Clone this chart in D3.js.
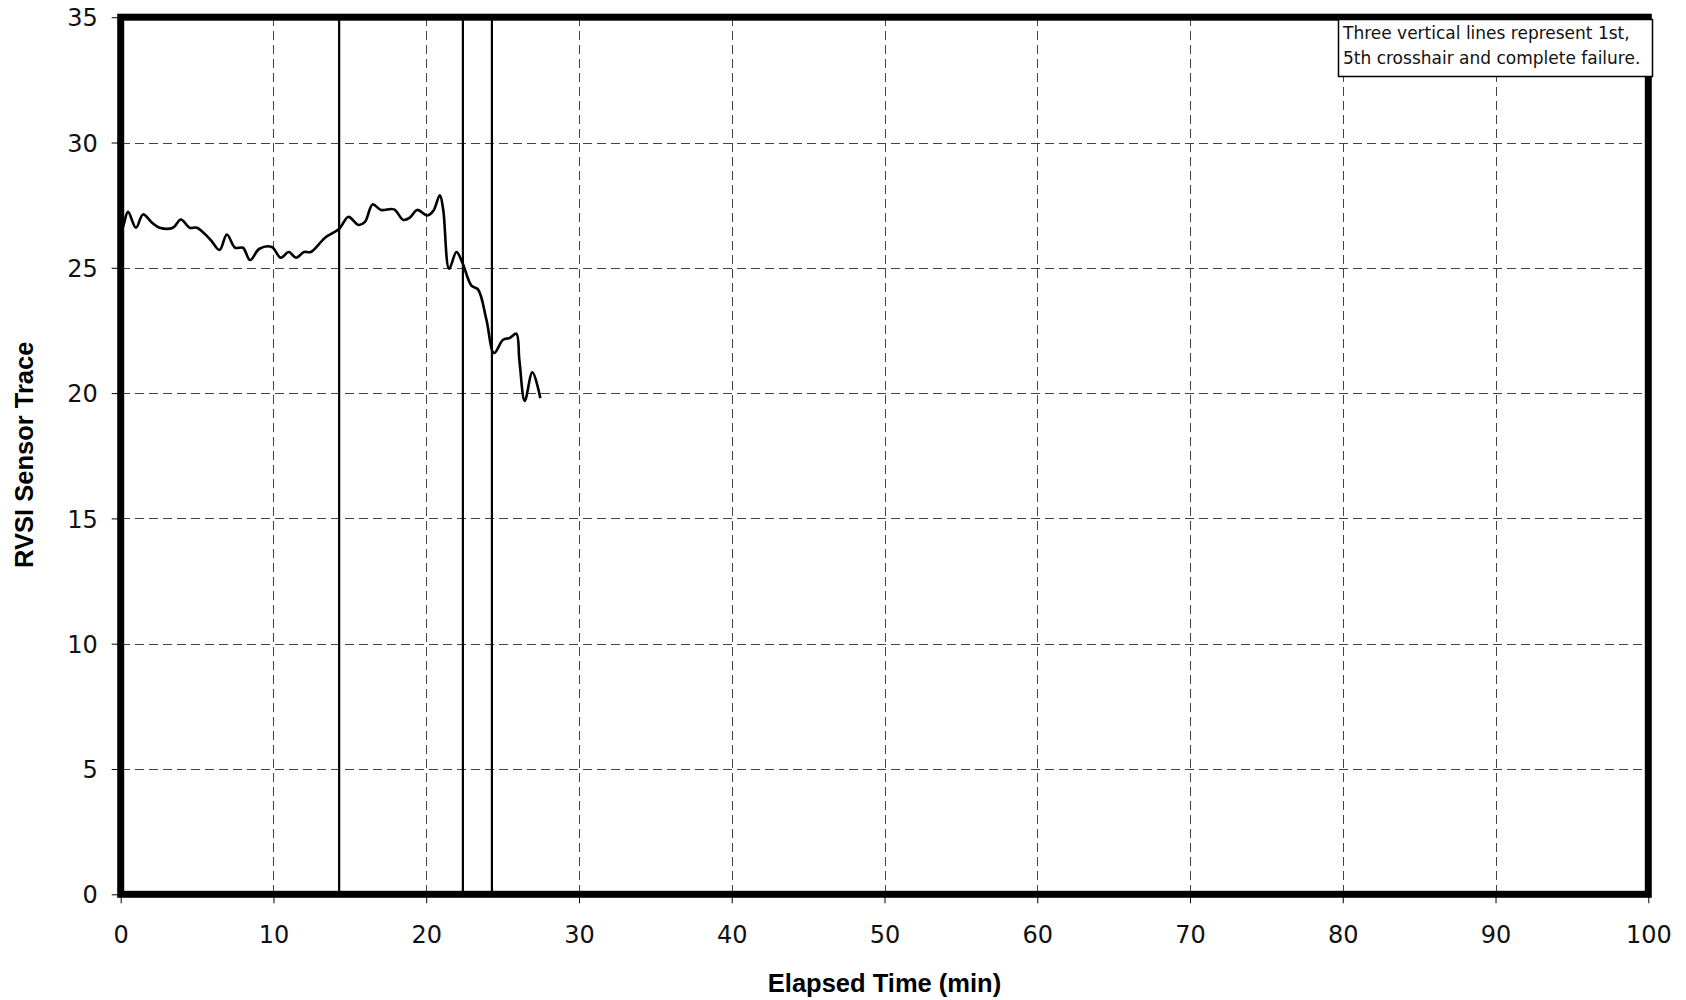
<!DOCTYPE html>
<html>
<head>
<meta charset="utf-8">
<script src="https://d3js.org/d3.v7.min.js"></script>
<style>
  html, body { margin: 0; padding: 0; background: #fff; }
  svg { display: block; }
</style>
</head>
<body>
<svg id="chart" width="1686" height="1000"></svg>
<script>
// Elapsed time (min) of each sensor sample
const elapsedMin = [0.0, 0.2, 0.48, 1.0, 1.46, 2.05, 2.55, 3.42, 3.94, 4.51, 4.99, 5.86, 6.47, 6.95, 7.49,
  8.0, 8.47, 9.08, 9.89, 10.48, 11.0, 11.48, 12.0, 12.44, 13.38, 14.31, 14.9, 15.56, 15.99, 16.49,
  17.04, 17.89, 18.5, 18.93, 19.41, 20.07, 20.46, 20.89, 21.11, 21.5, 21.98, 22.37, 22.96, 23.4,
  23.94, 24.44, 25.03, 25.47, 25.9, 26.1, 26.45, 26.95, 27.47];
// RVSI sensor trace value at each sample
const rvsiTrace = [26.3, 26.73, 27.23, 26.6, 27.13, 26.8, 26.6, 26.6, 26.93, 26.6, 26.6, 26.13, 25.71, 26.33, 25.8,
  25.8, 25.31, 25.76, 25.83, 25.4, 25.63, 25.4, 25.63, 25.63, 26.2, 26.56, 27.03, 26.71, 26.83, 27.53,
  27.31, 27.33, 26.91, 27.0, 27.31, 27.09, 27.27, 27.89, 27.33, 24.96, 25.63, 25.2, 24.29, 24.13,
  22.93, 21.6, 22.13, 22.2, 22.37, 21.3, 19.69, 20.83, 19.8];
// 1st crosshair, 5th crosshair, complete failure
const eventTimes = [14.3, 22.4, 24.3];
const xTicks = [0, 10, 20, 30, 40, 50, 60, 70, 80, 90, 100];
const yTicks = [0, 5, 10, 15, 20, 25, 30, 35];
const noteLines = ["Three vertical lines represent 1st,", "5th crosshair and complete failure."];

const svg = d3.select("#chart");
const plot = { left: 120.7, right: 1648.3, top: 17.2, bottom: 894.3 };

const x = d3.scaleLinear().domain([0, 100]).range([plot.left, plot.right]);
const y = d3.scaleLinear().domain([0, 35]).range([plot.bottom, plot.top]);

const tickFont = "'DejaVu Sans', 'Noto Sans', sans-serif";
const titleFont = "'Liberation Sans', Arial, sans-serif";

// dashed grid
const grid = svg.append("g").attr("stroke", "#444").attr("stroke-width", 1)
  .attr("stroke-dasharray", "9,5").attr("shape-rendering", "crispEdges");
grid.selectAll("line.v").data(xTicks.filter(d => d > 0 && d < 100)).join("line")
  .attr("class", "v")
  .attr("x1", d => Math.round(x(d)) + 0.5).attr("x2", d => Math.round(x(d)) + 0.5)
  .attr("y1", plot.top).attr("y2", plot.bottom);
grid.selectAll("line.h").data(yTicks.filter(d => d > 0 && d < 35)).join("line")
  .attr("class", "h")
  .attr("y1", d => Math.round(y(d)) + 0.5).attr("y2", d => Math.round(y(d)) + 0.5)
  .attr("x1", plot.left).attr("x2", plot.right);

// axes (ticks + labels)
const xAxis = svg.append("g")
  .attr("transform", `translate(0,${plot.bottom})`)
  .call(d3.axisBottom(x).tickValues(xTicks).tickSize(9).tickPadding(23).tickFormat(d3.format("d")));
const yAxis = svg.append("g")
  .attr("transform", `translate(${plot.left},0)`)
  .call(d3.axisLeft(y).tickValues(yTicks).tickSize(9).tickPadding(14).tickFormat(d3.format("d")));
[xAxis, yAxis].forEach(g => {
  g.select(".domain").remove();
  g.selectAll(".tick line").attr("stroke", "#000").attr("stroke-width", 1);
  g.selectAll(".tick text").attr("fill", "#111").style("font-family", tickFont).style("font-size", "24px");
});
yAxis.selectAll(".tick text").attr("dy", "0.36em");

// event markers
svg.append("g").selectAll("line").data(eventTimes).join("line")
  .attr("x1", d => x(d)).attr("x2", d => x(d))
  .attr("y1", plot.top).attr("y2", plot.bottom)
  .attr("stroke", "#000").attr("stroke-width", 2.2);

// sensor trace
const series = elapsedMin.map((t, i) => [t, rvsiTrace[i]]);
const line = d3.line().x(d => x(d[0])).y(d => y(d[1])).curve(d3.curveCatmullRom.alpha(0.5));
svg.append("path").datum(series)
  .attr("d", line).attr("fill", "none")
  .attr("stroke", "#000").attr("stroke-width", 2.6).attr("stroke-linejoin", "round");

// heavy plot frame
svg.append("rect")
  .attr("x", plot.left).attr("y", plot.top)
  .attr("width", plot.right - plot.left).attr("height", plot.bottom - plot.top)
  .attr("fill", "none").attr("stroke", "#000").attr("stroke-width", 7);

// axis titles
svg.append("text")
  .attr("x", (plot.left + plot.right) / 2).attr("y", 992)
  .attr("text-anchor", "middle")
  .style("font-family", titleFont).style("font-weight", "bold").style("font-size", "25.5px")
  .text("Elapsed Time (min)");
svg.append("text")
  .attr("transform", `translate(33,${(plot.top + plot.bottom) / 2 - 1}) rotate(-90)`)
  .attr("text-anchor", "middle")
  .style("font-family", titleFont).style("font-weight", "bold").style("font-size", "25.5px")
  .text("RVSI Sensor Trace");

// note box
const note = svg.append("g");
note.append("rect")
  .attr("x", 1338.5).attr("y", 19.5).attr("width", 314).attr("height", 57)
  .attr("fill", "#fff").attr("stroke", "#000").attr("stroke-width", 1.5);
note.selectAll("text").data(noteLines).join("text")
  .attr("x", 1343).attr("y", (d, i) => 38.5 + i * 25)
  .style("font-family", tickFont).style("font-size", "17px").attr("fill", "#111")
  .text(d => d);
</script>
</body>
</html>
